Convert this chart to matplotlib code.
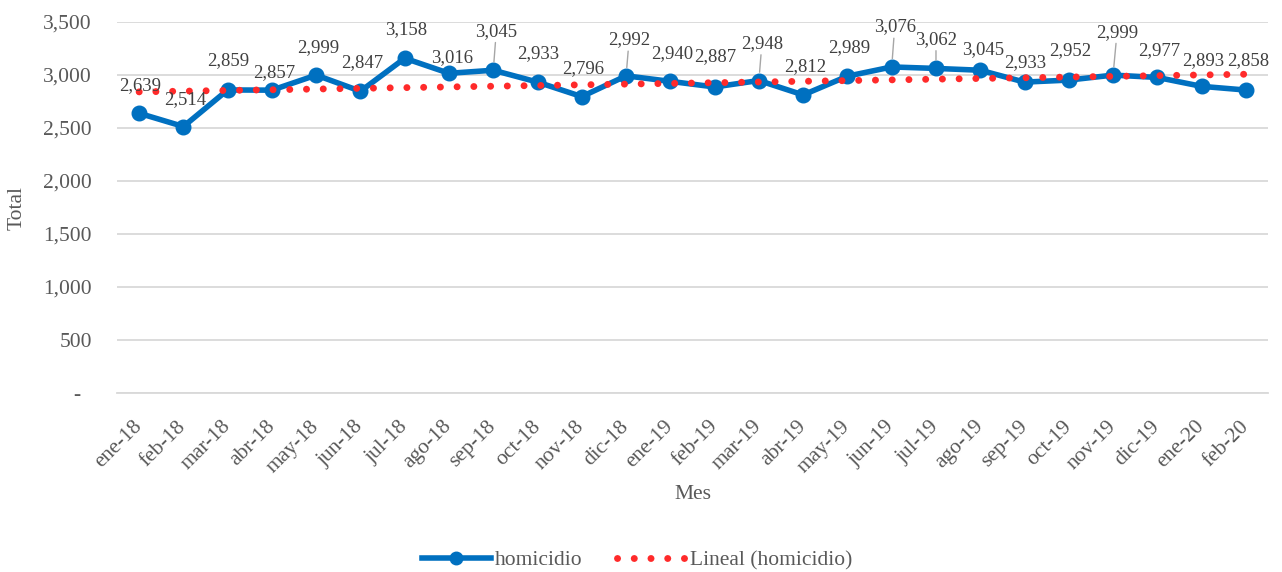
import numpy as np
import matplotlib
matplotlib.use("Agg")
import matplotlib.pyplot as plt
from matplotlib import ticker
from matplotlib.lines import Line2D

plt.rcParams['font.family'] = ['Liberation Serif', 'DejaVu Serif']

meses = ['ene-18', 'feb-18', 'mar-18', 'abr-18', 'may-18', 'jun-18', 'jul-18',
         'ago-18', 'sep-18', 'oct-18', 'nov-18', 'dic-18', 'ene-19', 'feb-19',
         'mar-19', 'abr-19', 'may-19', 'jun-19', 'jul-19', 'ago-19', 'sep-19',
         'oct-19', 'nov-19', 'dic-19', 'ene-20', 'feb-20']
homicidio = [2639, 2514, 2859, 2857, 2999, 2847, 3158, 3016, 3045, 2933, 2796,
             2992, 2940, 2887, 2948, 2812, 2989, 3076, 3062, 3045, 2933, 2952,
             2999, 2977, 2893, 2858]

# label placement (pixels from the point, x right / y up) and leader lines
label_offsets = [(1, 28), (2, 27), (1, 29), (2, 18), (2, 28), (2, 29), (1, 29),
                 (3, 16), (3, 39), (1, 29), (1, 28), (3, 36), (2, 28), (1, 30),
                 (3, 37), (2, 28), (2, 29), (3, 40), (0, 29), (3, 21), (1, 20),
                 (1, 29), (4, 43), (2, 27), (2, 26), (2, 29)]
leaders = [8, 11, 14, 17, 18, 22]

GRAY = '#595959'
BLUE = '#0070C0'
RED = '#FF2A2A'
DOTS = (0, (0.01, 2.4))

x = np.arange(len(meses))
y = np.array(homicidio)

# linear trend (Excel "Lineal")
slope, intercept = np.polyfit(x, y, 1)
trend = slope * x + intercept

fig = plt.figure(figsize=(12.82, 5.72), dpi=100)
ax = fig.add_axes([117 / 1282, 1 - 393 / 572, (1268 - 117) / 1282, (393 - 22) / 572])

ax.plot(x, trend, color=RED, lw=5, linestyle=DOTS, dash_capstyle='round', zorder=3)
ax.plot(x, y, color=BLUE, lw=4, marker='o', markersize=10.5, zorder=2,
        solid_joinstyle='round')

for i, v in enumerate(homicidio):
    dx, dy = label_offsets[i]
    arrow = None
    if i in leaders:
        arrow = dict(arrowstyle='-', color='#a6a6a6', lw=1, shrinkA=0, shrinkB=6)
    ax.annotate('{:,}'.format(v), (i, v), xytext=(dx, dy), textcoords='offset pixels',
                ha='center', va='center', fontsize=13.5, color='#404040',
                arrowprops=arrow, zorder=5)

ax.set_xlim(-0.5, len(meses) - 0.5)
ax.set_ylim(0, 3500)
ax.yaxis.set_major_locator(ticker.MultipleLocator(500))
ax.yaxis.set_major_formatter(ticker.FuncFormatter(
    lambda v, _: '-  ' if v == 0 else '{:,.0f}'.format(v)))
ax.set_xticks(x)
ax.set_xticklabels(meses, rotation=45, ha='right', va='center',
                   rotation_mode='anchor')
ax.tick_params(axis='x', length=0, pad=22, labelsize=15.5, labelcolor=GRAY)
ax.tick_params(axis='y', length=0, pad=18, labelsize=15.5, labelcolor=GRAY)

ax.grid(axis='y', color='#d9d9d9', lw=1.3)
ax.set_axisbelow(True)
for s in ['top', 'right', 'left']:
    ax.spines[s].set_visible(False)
ax.spines['bottom'].set_color('#d9d9d9')
ax.spines['bottom'].set_linewidth(1.3)

ax.set_ylabel('Total', fontsize=15.5, color=GRAY)
ax.yaxis.set_label_coords(-(117 - 27) / 1151, 0.5)
ax.set_xlabel('Mes', fontsize=15.5, color=GRAY)
ax.xaxis.set_label_coords(0.5, -(485 - 393) / 371)

handles = [Line2D([], [], color=BLUE, lw=4, marker='o', markersize=9),
           Line2D([], [], color=RED, lw=5, linestyle=DOTS, dash_capstyle='round')]
fig.legend(handles, ['homicidio', 'Lineal (homicidio)'], loc='center',
           bbox_to_anchor=(0.497, 1 - 560 / 572), ncol=2, frameon=False,
           fontsize=15.5, labelcolor=GRAY, handlelength=3.2, handletextpad=0.2,
           columnspacing=1.6)

fig.savefig('out.png', dpi=100)
